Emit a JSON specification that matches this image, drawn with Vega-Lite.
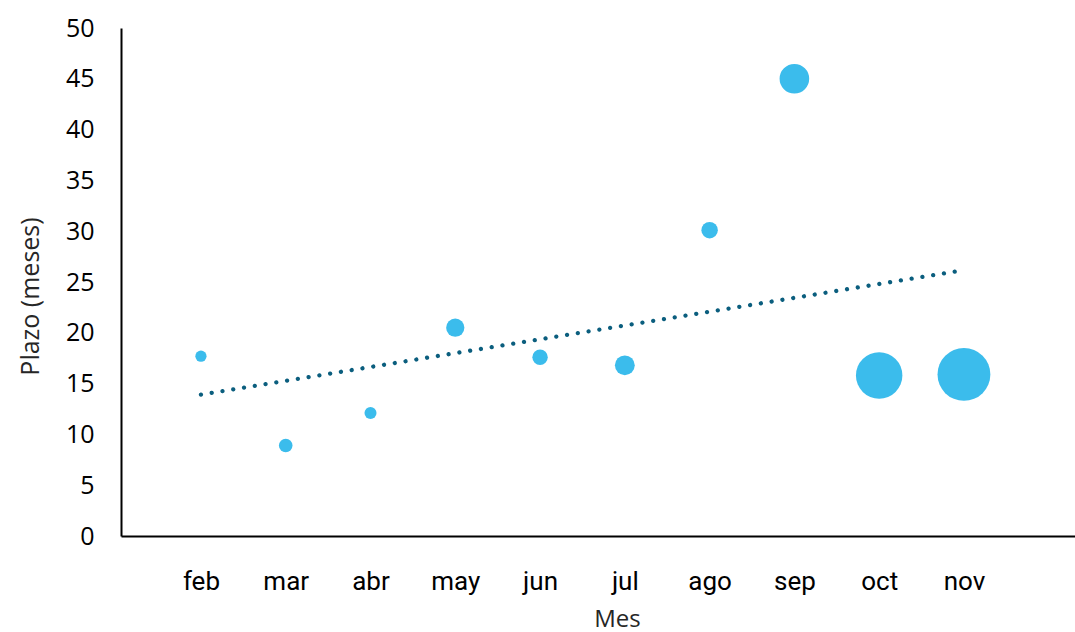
{
  "$schema": "https://vega.github.io/schema/vega-lite/v6.json",
  "autosize": "none",
  "width": 954,
  "height": 508,
  "padding": {"left": 121, "top": 28, "right": 0, "bottom": 96},
  "background": "white",
  "config": {"view": {"stroke": null}, "axis": {"grid": false}},
  "data": {
    "values": [
      {"mes": "feb", "n": 2, "plazo": 17.7, "monto": 4.5},
      {"mes": "mar", "n": 3, "plazo": 8.9, "monto": 6.6},
      {"mes": "abr", "n": 4, "plazo": 12.1, "monto": 5.2},
      {"mes": "may", "n": 5, "plazo": 20.5, "monto": 11.9},
      {"mes": "jun", "n": 6, "plazo": 17.6, "monto": 8.5},
      {"mes": "jul", "n": 7, "plazo": 16.8, "monto": 14.1},
      {"mes": "ago", "n": 8, "plazo": 30.1, "monto": 9.7},
      {"mes": "sep", "n": 9, "plazo": 45.0, "monto": 31.4},
      {"mes": "oct", "n": 10, "plazo": 15.8, "monto": 77.3},
      {"mes": "nov", "n": 11, "plazo": 15.9, "monto": 100}
    ]
  },
  "layer": [
    {
      "mark": {"type": "circle", "opacity": 1, "color": "#3BBCEC"},
      "encoding": {
        "x": {
          "field": "n",
          "type": "quantitative",
          "scale": {"domain": [1.057, 12.31], "nice": false, "zero": false},
          "axis": {
            "values": [2, 3, 4, 5, 6, 7, 8, 9, 10, 11],
            "labelExpr": "['','ene','feb','mar','abr','may','jun','jul','ago','sep','oct','nov','dic'][datum.value]",
            "ticks": false,
            "labelFont": "Roboto",
            "labelFontSize": 26,
            "labelFontWeight": "normal",
            "labelColor": "#000000",
            "labelBaseline": "alphabetic",
            "labelPadding": 53,
            "labelOverlap": false,
            "labelFlush": false,
            "labelBound": false,
            "domainColor": "#000000",
            "domainWidth": 2,
            "title": "Mes",
            "titleFont": "Open Sans",
            "titleFontSize": 24,
            "titleFontWeight": "normal",
            "titleColor": "#262626",
            "titleBaseline": "alphabetic",
            "titleAlign": "center",
            "titleX": 496,
            "titleY": 90
          }
        },
        "y": {
          "field": "plazo",
          "type": "quantitative",
          "scale": {"domain": [0, 50], "nice": false},
          "axis": {
            "values": [0, 5, 10, 15, 20, 25, 30, 35, 40, 45, 50],
            "ticks": false,
            "labelFont": "Open Sans",
            "labelFontSize": 25,
            "labelColor": "#000000",
            "labelPadding": 27,
            "labelOverlap": false,
            "labelFlush": false,
            "labelBound": false,
            "domainColor": "#000000",
            "domainWidth": 2,
            "title": "Plazo (meses)",
            "titleFont": "Open Sans",
            "titleFontSize": 25,
            "titleFontWeight": "normal",
            "titleColor": "#262626",
            "titleAngle": -90,
            "titleBaseline": "alphabetic",
            "titleAlign": "center",
            "titleX": -83,
            "titleY": 268
          }
        },
        "size": {
          "field": "monto",
          "type": "quantitative",
          "scale": {"type": "linear", "domain": [0, 100], "range": [0, 2790], "zero": true},
          "legend": null
        }
      }
    },
    {
      "transform": [{"regression": "plazo", "on": "n", "extent": [2, 11]}],
      "mark": {
        "type": "line",
        "color": "#0B5E7E",
        "strokeWidth": 4.3,
        "strokeDash": [0.01, 10.9],
        "strokeCap": "round"
      },
      "encoding": {
        "x": {"field": "n", "type": "quantitative"},
        "y": {"field": "plazo", "type": "quantitative"}
      }
    }
  ]
}
